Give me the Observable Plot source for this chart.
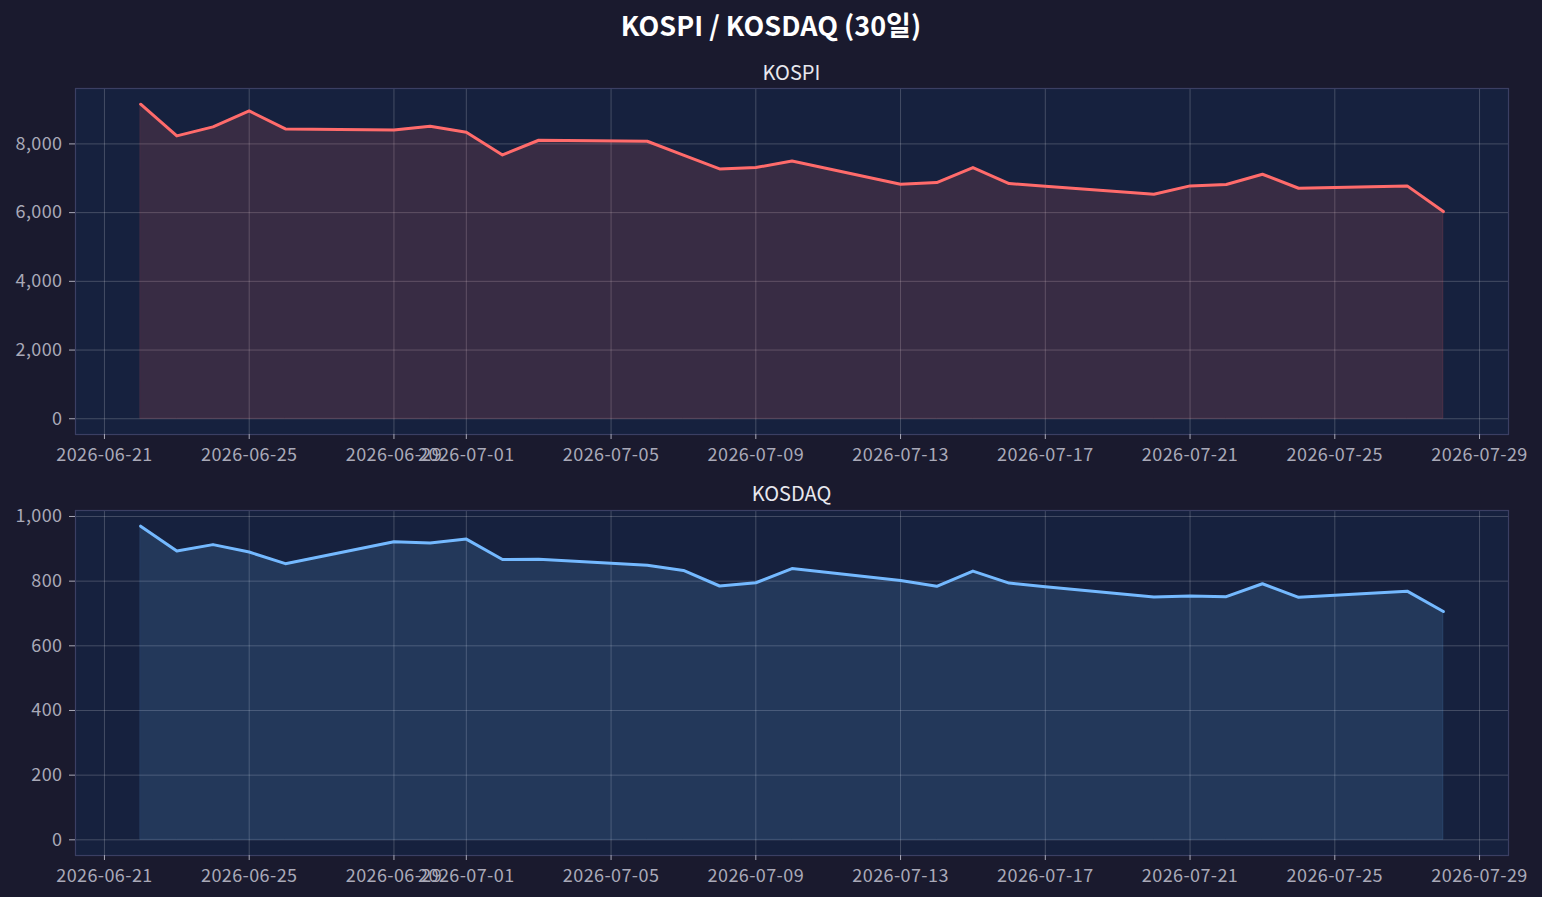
<!DOCTYPE html>
<html>
<head>
<meta charset="utf-8">
<script src="https://cdn.jsdelivr.net/npm/d3@7"></script>
<script src="https://cdn.jsdelivr.net/npm/@observablehq/plot@0.6"></script>
<style>
  html, body { margin: 0; padding: 0; background: #1a1a2e; }
  #page { position: relative; width: 1542px; height: 897px; background: #1a1a2e; overflow: hidden;
          font-family: "Noto Sans CJK KR", "Noto Sans", sans-serif; }
  .title { position: absolute; left: 0; width: 1542px; top: 6px; text-align: center; color: #ffffff;
           font-size: 27px; font-weight: bold; line-height: 38px; }
  .sub { position: absolute; left: 75px; width: 1433px; text-align: center; color: #e8e8ee;
         font-size: 20px; line-height: 26px; }
  .panel { position: absolute; left: 0; }
  .panel svg text { letter-spacing: 0.4px; }
</style>
</head>
<body>
<div id="page">
  <div class="title">KOSPI / KOSDAQ (30일)</div>
  <div class="sub" style="top:59px">KOSPI</div>
  <div class="panel" id="p1" style="top:80px"></div>
  <div class="sub" style="top:480px">KOSDAQ</div>
  <div class="panel" id="p2" style="top:502px"></div>
</div>
<script>
const dates = ["2026-06-22","2026-06-23","2026-06-24","2026-06-25","2026-06-26",
  "2026-06-29","2026-06-30","2026-07-01","2026-07-02","2026-07-03",
  "2026-07-06","2026-07-07","2026-07-08","2026-07-09","2026-07-10",
  "2026-07-13","2026-07-14","2026-07-15","2026-07-16","2026-07-17",
  "2026-07-20","2026-07-21","2026-07-22","2026-07-23","2026-07-24",
  "2026-07-27","2026-07-28"];
const kospi = [9155,8233,8495,8960,8436,8407,8514,8340,7680,8107,
  8078,7675,7273,7311,7505,6827,6875,7311,6846,6770,
  6536,6778,6817,7117,6710,6778,6031];
const kosdaq = [970,893,913,890,854,922,918,930,867,868,
  849,833,785,795,839,802,784,831,794,783,
  751,754,752,792,750,769,706];
const xTickLabels = ["2026-06-21","2026-06-25","2026-06-29","2026-07-01","2026-07-05",
  "2026-07-09","2026-07-13","2026-07-17","2026-07-21","2026-07-25","2026-07-29"];
const kospiTicks = [0,2000,4000,6000,8000];
const kosdaqTicks = [0,200,400,600,800,1000];

const parse = s => new Date(s + "T00:00:00Z");
const xTicks = xTickLabels.map(parse);
const xDomain = [new Date("2026-06-20T04:48:00Z"), new Date("2026-07-29T19:12:00Z")];
const fmtDate = d3.utcFormat("%Y-%m-%d");
const fmtNum = d3.format(",");

function panel(values, yTicks, yDomain, color, height, marginBottom) {
  const data = dates.map((d, i) => ({date: parse(d), value: values[i]}));
  return Plot.plot({
    width: 1542, height,
    marginLeft: 75, marginRight: 34, marginTop: 8, marginBottom,
    style: {background: "transparent", color: "#a9a9b8", fontFamily: "'Noto Sans CJK KR', 'Noto Sans', sans-serif", fontSize: "18px"},
    x: {type: "utc", domain: xDomain, label: null},
    y: {domain: yDomain, label: null},
    marks: [
      Plot.frame({fill: "#16213e"}),
      Plot.gridX(xTicks, {stroke: "#ffffff", strokeOpacity: 0.2, strokeWidth: 1}),
      Plot.gridY(yTicks, {stroke: "#ffffff", strokeOpacity: 0.2, strokeWidth: 1}),
      Plot.areaY(data, {x: "date", y: "value", fill: color, fillOpacity: 0.15, stroke: color, strokeOpacity: 0.15, strokeWidth: 1}),
      Plot.lineY(data, {x: "date", y: "value", stroke: color, strokeWidth: 3}),
      Plot.frame({stroke: "#3b3f63", strokeWidth: 1.2}),
      Plot.axisX(xTicks, {tickSize: 5, tickPadding: 9, tickFormat: fmtDate, label: null}),
      Plot.axisY(yTicks, {tickSize: 6, tickPadding: 7, tickFormat: fmtNum, label: null})
    ]
  });
}

document.getElementById("p1").appendChild(panel(kospi, kospiTicks, [-458, 9613], "#ff6b6b", 400, 46));
document.getElementById("p2").appendChild(panel(kosdaq, kosdaqTicks, [-48.5, 1018.5], "#74b9ff", 395, 42));
</script>
</body>
</html>
